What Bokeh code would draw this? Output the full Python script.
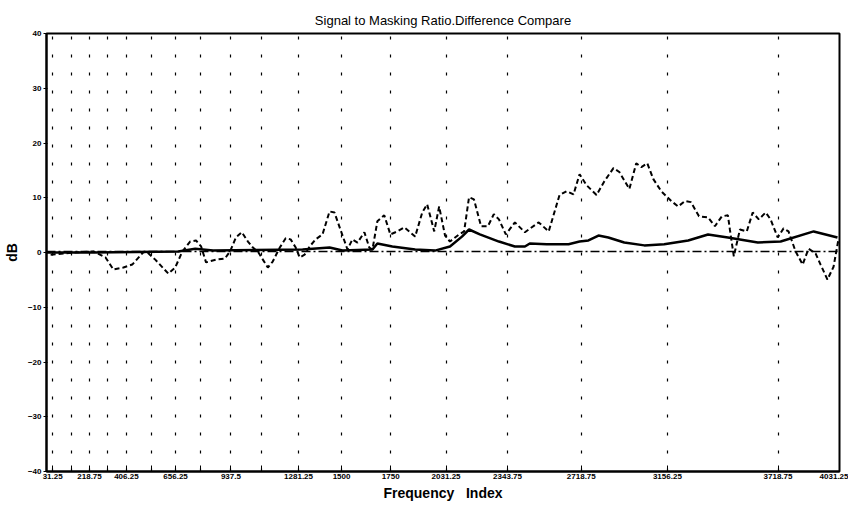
from bokeh.plotting import figure
from bokeh.models import FixedTicker, Range1d
from bokeh.embed import file_html
from bokeh.resources import INLINE

title_text = "Signal to Masking Ratio.Difference Compare"
x_label = "Frequency\u00a0\u00a0\u00a0Index"
y_label = "dB"

# band-edge grid positions and labelled ticks
grid_x = [31.25, 125, 218.75, 312.5, 406.25, 531.25, 656.25, 781.25, 937.5,
          1093.75, 1281.25, 1500, 1750, 2031.25, 2343.75, 2718.75, 3156.25, 3718.75]
tick_labels = {31.25: "31.25", 218.75: "218.75", 406.25: "406.25", 656.25: "656.25",
               937.5: "937.5", 1281.25: "1281.25", 1500: "1500", 1750: "1750",
               2031.25: "2031.25", 2343.75: "2343.75", 2718.75: "2718.75",
               3156.25: "3156.25", 3718.75: "3718.75", 4031.25: "4031.25"}
y_ticks = [-40, -30, -20, -10, 0, 10, 20, 30, 40]

# dashed series (SMR difference)
smr_x = [21, 138, 239, 300, 340, 391, 436, 491, 507, 553, 619, 654, 691, 730, 760, 786,
         811, 862, 907, 933, 963, 993, 1024, 1049, 1074, 1100, 1125, 1150, 1186, 1216,
         1241, 1267, 1287, 1312, 1338, 1368, 1403, 1439, 1464, 1494, 1530, 1555, 1581,
         1616, 1641, 1657, 1682, 1717, 1748, 1783, 1819, 1844, 1874, 1910, 1935, 1971,
         1996, 2026, 2051, 2097, 2123, 2148, 2173, 2209, 2244, 2274, 2300, 2335, 2381,
         2432, 2502, 2553, 2608, 2644, 2679, 2710, 2745, 2796, 2836, 2882, 2912, 2963,
         2998, 3024, 3054, 3085, 3125, 3176, 3211, 3246, 3276, 3317, 3363, 3398, 3433,
         3464, 3474, 3494, 3525, 3560, 3590, 3621, 3656, 3681, 3717, 3747, 3772, 3808,
         3844, 3874, 3910, 3935, 3970, 4001, 4026]
smr_y = [-0.4, 0.0, 0.2, -0.9, -3.1, -2.75, -2.2, 0.0, 0.2, -1.3, -3.85, -2.75, 0.2, 2.0,
         2.2, 1.1, -1.8, -1.3, -1.1, 0.2, 2.75, 3.7, 2.0, 0.9, 0.2, -1.3, -2.75, -1.65,
         0.9, 2.6, 2.4, 0.9, -0.9, -0.4, 1.1, 2.4, 3.3, 7.5, 7.3, 4.2, 0.55, 2.4, 1.8,
         3.7, 0.9, 0.55, 5.7, 6.8, 3.3, 3.85, 4.6, 3.85, 2.9, 7.3, 8.8, 3.85, 8.4, 3.1,
         2.0, 3.3, 3.85, 10.1, 9.7, 4.8, 4.8, 7.0, 6.05, 3.3, 5.5, 3.7, 5.5, 3.85, 10.5,
         11.2, 10.6, 14.3, 12.3, 10.5, 13.0, 15.4, 14.7, 11.6, 16.3, 15.6, 16.3, 13.4,
         11.2, 9.4, 8.4, 9.4, 9.2, 6.6, 6.4, 4.8, 6.6, 6.8, 4.2, -0.7, 4.2, 3.85, 7.3,
         6.05, 7.3, 6.05, 2.75, 4.4, 3.85, 0.2, -2.2, 0.7, -0.2, -2.2, -4.95, -2.6, 2.4]

# solid series
mask_x = [0, 239, 670, 756, 847, 1302, 1439, 1505, 1657, 1682, 1758, 1874, 1975, 2051,
          2112, 2148, 2203, 2300, 2381, 2432, 2457, 2543, 2654, 2710, 2755, 2806, 2856,
          2937, 3039, 3140, 3262, 3363, 3464, 3616, 3732, 3900, 4021]
mask_y = [0.0, 0.0, 0.2, 0.7, 0.35, 0.55, 0.9, 0.35, 0.55, 1.65, 1.1, 0.55, 0.35, 1.1,
          2.9, 4.2, 3.3, 2.0, 1.1, 1.1, 1.65, 1.5, 1.5, 2.0, 2.2, 3.1, 2.75, 1.83, 1.3,
          1.5, 2.2, 3.3, 2.75, 1.83, 2.0, 3.85, 2.75]

# dash-dot reference
ref_x = [0, 4031.25]
ref_y = [0.2, 0.2]

FONT = "Liberation Sans"

p = figure(width=848, height=507, x_range=Range1d(0, 4031.25), y_range=Range1d(-40, 40),
           output_backend="svg", toolbar_location=None, title=title_text,
           min_border_left=43, min_border_right=9, min_border_top=33, min_border_bottom=36)
p.background_fill_color = "white"
p.border_fill_color = "white"
p.outline_line_color = "black"
p.outline_line_width = 2

p.title.align = "center"
p.title.text_font = FONT
p.title.text_font_size = "13px"
p.title.text_font_style = "normal"
p.title.text_color = "black"
p.title.standoff = 12

# grids
p.ygrid.visible = False
p.xgrid.ticker = FixedTicker(ticks=grid_x)
p.xgrid.grid_line_color = "black"
p.xgrid.grid_line_dash = "3 15"
p.xgrid.grid_line_width = 1.2
p.xgrid.grid_line_alpha = 1.0

# x axis
xa = p.xaxis[0]
xa.ticker = FixedTicker(ticks=grid_x + [4031.25])
xa.major_label_overrides = {k: tick_labels.get(k, "") for k in grid_x + [4031.25]}
xa.major_tick_in = 6
xa.major_tick_out = 0
xa.major_tick_line_color = "black"
xa.axis_line_color = "black"
xa.minor_tick_line_color = None
xa.axis_line_width = 2
xa.major_label_text_font = FONT
xa.major_label_text_font_size = "8px"
xa.major_label_text_font_style = "bold"
xa.major_label_text_color = "black"
xa.major_label_standoff = 2
xa.axis_label = x_label
xa.axis_label_text_font = FONT
xa.axis_label_text_font_size = "14px"
xa.axis_label_text_font_style = "bold"
xa.axis_label_text_color = "black"
xa.axis_label_standoff = 3

ya = p.yaxis[0]
ya.ticker = FixedTicker(ticks=y_ticks)
ya.major_tick_in = 1
ya.major_tick_out = 3
ya.major_tick_line_color = "black"
ya.axis_line_color = "black"
ya.minor_tick_line_color = None
ya.axis_line_width = 2
ya.major_label_text_font = FONT
ya.major_label_text_font_size = "8px"
ya.major_label_text_font_style = "bold"
ya.major_label_text_color = "black"
ya.major_label_standoff = 2
ya.axis_label = y_label
ya.axis_label_text_font = FONT
ya.axis_label_text_font_size = "14px"
ya.axis_label_text_font_style = "bold"
ya.axis_label_text_color = "black"
ya.axis_label_standoff = 5

p.line(ref_x, ref_y, line_color="black", line_width=1.5, line_dash="9 3 2 3")
p.line(mask_x, mask_y, line_color="black", line_width=2.5)
p.line(smr_x, smr_y, line_color="black", line_width=2, line_dash="5 3")

open("out.html", "w").write(file_html(p, INLINE))
